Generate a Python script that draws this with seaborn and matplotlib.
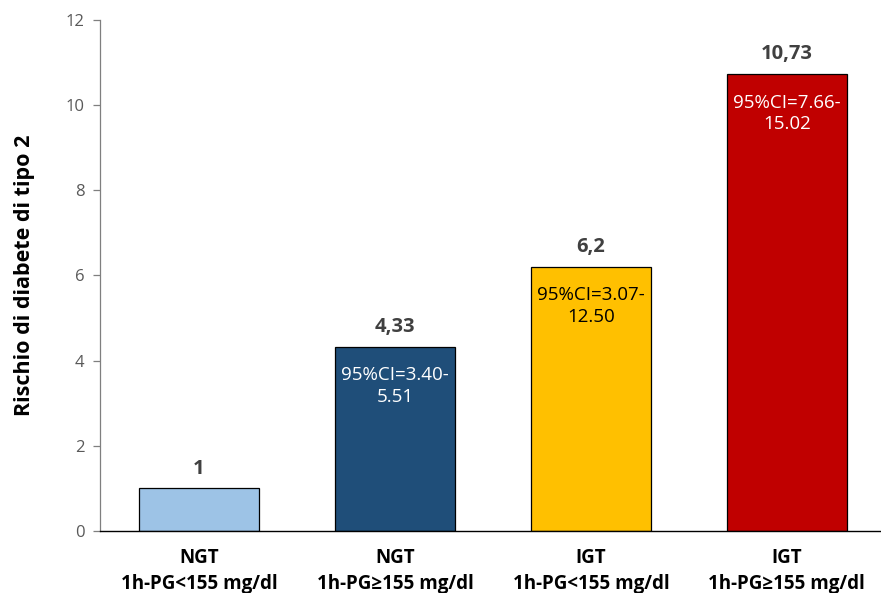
import matplotlib
matplotlib.use("Agg")
import matplotlib.pyplot as plt
import seaborn as sns
import pandas as pd

categories = ["NGT\n1h-PG<155 mg/dl", "NGT\n1h-PG≥155 mg/dl",
              "IGT\n1h-PG<155 mg/dl", "IGT\n1h-PG≥155 mg/dl"]
risk = [1.0, 4.33, 6.2, 10.73]
value_labels = ["1", "4,33", "6,2", "10,73"]
ci_labels = ["", "95%CI=3.40-\n5.51", "95%CI=3.07-\n12.50", "95%CI=7.66-\n15.02"]
bar_colors = ["#9DC3E6", "#1F4E79", "#FFC000", "#C00000"]
ci_colors = ["black", "white", "black", "white"]

sns.set_style("white")
plt.rcParams['font.family'] = ['Open Sans', 'DejaVu Sans']

df = pd.DataFrame({"group": categories, "risk": risk})

fig = plt.figure(figsize=(8.81, 5.93), dpi=100)
ax = fig.add_axes([0.1135, 0.1046, 0.8865, 0.8617])

sns.barplot(data=df, x="group", y="risk", hue="group", palette=bar_colors,
            legend=False, width=0.61, edgecolor="black", linewidth=0.9,
            saturation=1, ax=ax)

for i, p in enumerate(ax.patches):
    x = p.get_x() + p.get_width() / 2
    h = p.get_height()
    ax.annotate(value_labels[i], (x, h), xytext=(0, 7), textcoords="offset points",
                ha="center", va="bottom", fontsize=14.5, fontweight="bold",
                color="#404040")
    if ci_labels[i]:
        ax.annotate(ci_labels[i], (x, h), xytext=(0, -14), textcoords="offset points",
                    ha="center", va="top", fontsize=13.5, color=ci_colors[i],
                    linespacing=1.25)

ax.set_xlim(-0.505, 3.48)
ax.set_ylim(0, 12)
ax.set_yticks(range(0, 13, 2))
ax.set_xlabel("")
ax.set_ylabel("Rischio di diabete di tipo 2", fontsize=15.5, fontweight="bold",
              color="black", labelpad=22)

for s in ["top", "right"]:
    ax.spines[s].set_visible(False)
ax.spines["left"].set_color("#7f7f7f")
ax.spines["left"].set_linewidth(0.9)
ax.spines["bottom"].set_color("black")
ax.spines["bottom"].set_linewidth(1.0)

ax.tick_params(axis="y", which="major", left=True, length=5, width=0.9,
               color="#7f7f7f", labelsize=12, labelcolor="#595959", pad=6)
ax.tick_params(axis="x", bottom=False, labelsize=13.5, pad=9)
for lbl in ax.get_xticklabels():
    lbl.set_fontweight("bold")
    lbl.set_color("black")
    lbl.set_linespacing(1.35)

fig.savefig("out.png", dpi=100)
